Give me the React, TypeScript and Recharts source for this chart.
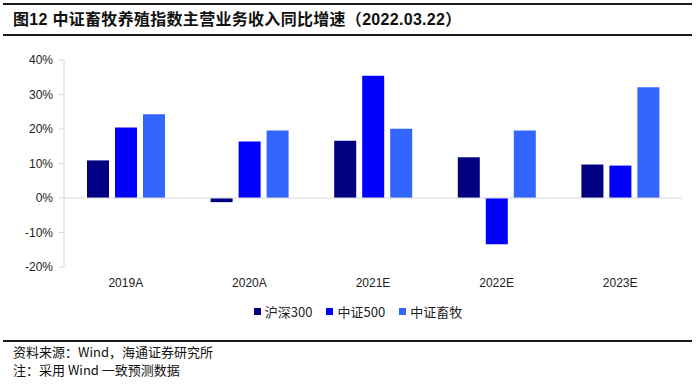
import React from "react";
import { BarChart, Bar, XAxis, YAxis, ReferenceLine } from "recharts";

// 数据：年份 + 三个指数的营收同比增速（%）
const categories = ["2019A", "2020A", "2021E", "2022E", "2023E"];
const hs300 = [10.9, -1.2, 16.6, 11.8, 9.7];
const zz500 = [20.4, 16.4, 35.4, -13.4, 9.4];
const livestock = [24.3, 19.6, 20.1, 19.6, 32.1];
const yTicks = [-20, -10, 0, 10, 20, 30, 40];

const SERIES = [
  { key: "hs300", name: "沪深300", color: "#000080" },
  { key: "zz500", name: "中证500", color: "#0000FF" },
  { key: "livestock", name: "中证畜牧", color: "#3366FF" },
];

const FONT = '"Liberation Sans", Arial, "Noto Sans CJK SC", sans-serif';
const CJK = '"Noto Sans CJK SC", "Liberation Sans", sans-serif';

const rows = categories.map((c, i) => ({
  year: c,
  hs300: hs300[i],
  zz500: zz500[i],
  livestock: livestock[i],
}));

function Rule({ top }: { top: number }) {
  return (
    <div
      style={{
        position: "absolute",
        left: 3,
        width: 689,
        top,
        height: 2,
        background: "#1a1a1a",
      }}
    />
  );
}

export default function App() {
  return (
    <div
      style={{
        position: "absolute",
        left: 0,
        top: 0,
        width: 700,
        height: 385,
        background: "#fff",
        overflow: "hidden",
        fontFamily: FONT,
      }}
    >
      <Rule top={3} />
      <div
        style={{
          position: "absolute",
          left: 13,
          top: 9,
          fontSize: 16,
          fontWeight: "bold",
          lineHeight: "22px",
          color: "#111",
          fontFamily: '"Liberation Sans", "Noto Sans CJK SC", sans-serif',
          whiteSpace: "nowrap",
          letterSpacing: 0.3,
        }}
      >
        图12 中证畜牧养殖指数主营业务收入同比增速（2022.03.22）
      </div>
      <Rule top={34} />

      <div style={{ position: "absolute", left: 0, top: 0 }}>
        <BarChart
          width={700}
          height={300}
          data={rows}
          margin={{ top: 60, right: 18, bottom: 0, left: 0 }}
          barSize={22}
          barGap={6}
        >
          <XAxis
            dataKey="year"
            axisLine={false}
            tickLine={false}
            height={33}
            tickMargin={5}
            tick={{ fontSize: 12, fill: "#222", fontFamily: FONT }}
          />
          <YAxis
            domain={[-20, 40]}
            ticks={yTicks}
            width={64}
            tickFormatter={(v: number) => `${v}%`}
            axisLine={{ stroke: "#d9d9d9" }}
            tickLine={{ stroke: "#d9d9d9" }}
            tickSize={5}
            tickMargin={6}
            tick={{ fontSize: 12, fill: "#222", fontFamily: FONT }}
            interval={0}
          />
          <ReferenceLine y={0} stroke="#d9d9d9" strokeWidth={1} />
          {SERIES.map((s) => (
            <Bar
              key={s.key}
              dataKey={s.key}
              name={s.name}
              fill={s.color}
              isAnimationActive={false}
            />
          ))}
        </BarChart>
      </div>

      {/* 图例 */}
      <div
        style={{
          position: "absolute",
          top: 302,
          left: 0,
          width: 700,
          display: "flex",
          justifyContent: "center",
          paddingLeft: 16,
          boxSizing: "border-box",
          fontSize: 13,
          fontFamily: CJK,
          color: "#222",
        }}
      >
        {SERIES.map((s) => (
          <div
            key={s.key}
            style={{ display: "flex", alignItems: "center", margin: "0 7px" }}
          >
            <span
              style={{
                display: "inline-block",
                width: 7,
                height: 7,
                background: s.color,
                marginRight: 4,
              }}
            />
            <span>{s.name}</span>
          </div>
        ))}
      </div>

      <Rule top={340} />
      <div
        style={{
          position: "absolute",
          left: 13,
          top: 343,
          fontSize: 13,
          lineHeight: "18px",
          fontFamily: CJK,
          color: "#111",
          whiteSpace: "nowrap",
        }}
      >
        <div>资料来源：Wind，海通证券研究所</div>
        <div>注：采用 Wind 一致预测数据</div>
      </div>
    </div>
  );
}
